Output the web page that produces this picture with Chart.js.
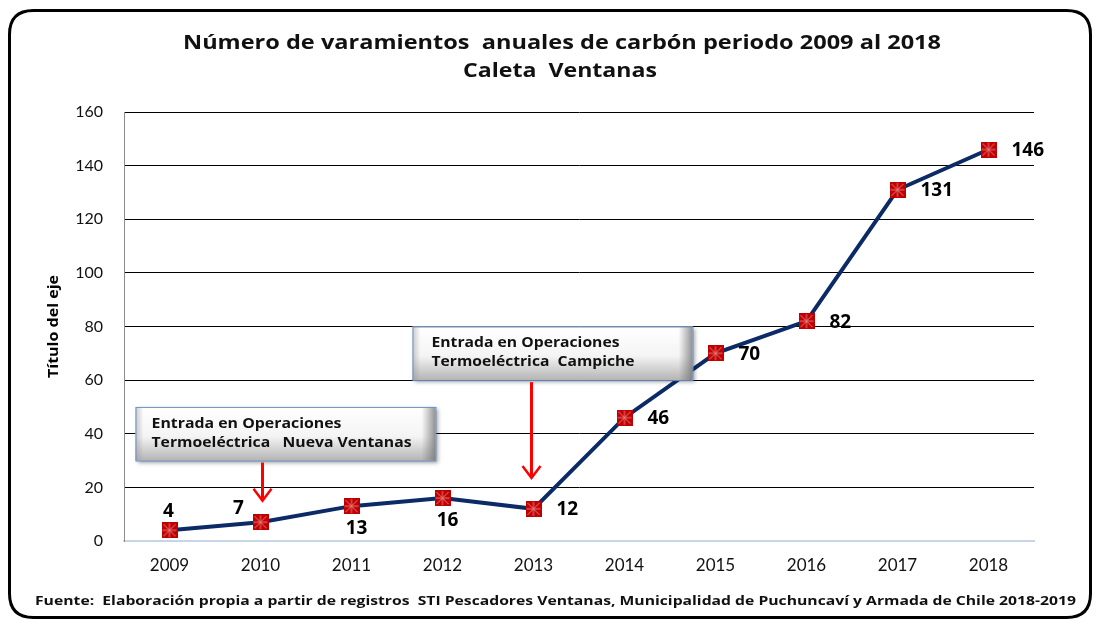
<!DOCTYPE html>
<html>
<head>
<meta charset="utf-8">
<script src="https://cdn.jsdelivr.net/npm/chart.js@4.4.1/dist/chart.umd.min.js"></script>
<style>
  html, body { margin: 0; padding: 0; background: #fff; }
  #wrap { width: 1096px; height: 622px; }
</style>
</head>
<body>
<div id="wrap"><canvas id="varamientos_chart" width="1096" height="622"></canvas></div>
<script>
const years = ["2009", "2010", "2011", "2012", "2013", "2014", "2015", "2016", "2017", "2018"];
const varamientos = [4, 7, 13, 16, 12, 46, 70, 82, 131, 146];
const yTicks = [0, 20, 40, 60, 80, 100, 120, 140, 160];

const titleLines = ["Número de varamientos  anuales de carbón periodo 2009 al 2018", "Caleta  Ventanas"];
const yAxisTitle = "Título del eje";
const footerText = "Fuente:  Elaboración propia a partir de registros  STI Pescadores Ventanas, Municipalidad de Puchuncaví y Armada de Chile 2018-2019";

// callouts: year the arrow points at, box top/bottom and arrow tip in axis units
const callouts = [
  { lines: ["Entrada en Operaciones", "Termoeléctrica   Nueva Ventanas"], year: "2010", top: 50, bottom: 30, tip: 15 },
  { lines: ["Entrada en Operaciones", "Termoeléctrica  Campiche"], year: "2013", top: 80, bottom: 60, tip: 23.5 }
];

// where each value label sits relative to its point
const labelSide = ["above", "left", "below", "below", "right", "right", "right", "right", "right", "right"];

function makeMarker() {
  const c = document.createElement("canvas");
  c.width = 16; c.height = 16;
  const g = c.getContext("2d");
  g.fillStyle = "#c00000";
  g.fillRect(0, 0, 16, 16);
  g.strokeStyle = "#e87a7a";
  g.lineWidth = 1;
  g.beginPath();
  g.moveTo(2, 2); g.lineTo(14, 14);
  g.moveTo(14, 2); g.lineTo(2, 14);
  g.moveTo(8, 1); g.lineTo(8, 15);
  g.moveTo(1, 8); g.lineTo(15, 8);
  g.stroke();
  return c;
}

// draw text squeezed/stretched to a given width
function fillFit(ctx, text, x, y, w, align) {
  const m = ctx.measureText(text).width;
  const s = w / m;
  ctx.save();
  ctx.translate(x, y);
  ctx.scale(s, 1);
  ctx.textAlign = align;
  ctx.fillText(text, 0, 0);
  ctx.restore();
}

function roundRect(ctx, x, y, w, h, r) {
  ctx.beginPath();
  ctx.moveTo(x + r, y);
  ctx.lineTo(x + w - r, y);
  ctx.quadraticCurveTo(x + w, y, x + w, y + r);
  ctx.lineTo(x + w, y + h - r);
  ctx.quadraticCurveTo(x + w, y + h, x + w - r, y + h);
  ctx.lineTo(x + r, y + h);
  ctx.quadraticCurveTo(x, y + h, x, y + h - r);
  ctx.lineTo(x, y + r);
  ctx.quadraticCurveTo(x, y, x + r, y);
  ctx.closePath();
}

function drawArrow(ctx, x, y1, y2) {
  ctx.save();
  ctx.strokeStyle = "#ff0000";
  ctx.lineWidth = 3;
  ctx.beginPath();
  ctx.moveTo(x, y1);
  ctx.lineTo(x, y2 - 2);
  ctx.stroke();
  ctx.lineWidth = 2.5;
  ctx.beginPath();
  ctx.moveTo(x - 9, y2 - 12);
  ctx.lineTo(x, y2);
  ctx.lineTo(x + 9, y2 - 12);
  ctx.stroke();
  ctx.restore();
}

const decorPlugin = {
  id: "decor",
  beforeDraw(chart) {
    const ctx = chart.ctx;
    ctx.save();
    ctx.fillStyle = "#fff";
    ctx.fillRect(0, 0, chart.width, chart.height);
    ctx.restore();
  },
  afterDatasetsDraw(chart) {
    const ctx = chart.ctx;
    const xs = chart.scales.x;
    const ys = chart.scales.y;

    // callout boxes + arrows
    const boxSpan = [[-127, 173, 190, 260], [-119, 161, 188, 203]];
    callouts.forEach(function (c, i) {
      const ax = xs.getPixelForValue(years.indexOf(c.year)) + (i === 0 ? 2 : -2);
      const left = ax + boxSpan[i][0];
      const right = ax + boxSpan[i][1];
      const top = ys.getPixelForValue(c.top);
      const bottom = ys.getPixelForValue(c.bottom);
      ctx.save();
      ctx.shadowColor = "rgba(0,0,0,0.35)";
      ctx.shadowBlur = 4;
      ctx.shadowOffsetX = 2;
      ctx.shadowOffsetY = 2;
      const gr = ctx.createLinearGradient(0, top, 0, bottom);
      gr.addColorStop(0, "#ffffff");
      gr.addColorStop(0.55, "#f4f4f4");
      gr.addColorStop(1, "#b4b4b4");
      ctx.fillStyle = gr;
      ctx.fillRect(left, top, right - left, bottom - top);
      ctx.restore();
      ctx.save();
      const gh = ctx.createLinearGradient(right - 14, 0, right, 0);
      gh.addColorStop(0, "rgba(120,120,120,0)");
      gh.addColorStop(1, "rgba(110,110,110,0.75)");
      ctx.fillStyle = gh;
      ctx.fillRect(right - 14, top, 14, bottom - top);
      const gl = ctx.createLinearGradient(left, 0, left + 8, 0);
      gl.addColorStop(0, "rgba(150,150,150,0.5)");
      gl.addColorStop(1, "rgba(150,150,150,0)");
      ctx.fillStyle = gl;
      ctx.fillRect(left, top, 8, bottom - top);
      ctx.strokeStyle = "#6d93c8";
      ctx.lineWidth = 1;
      ctx.strokeRect(left + 0.5, top + 0.5, right - left, bottom - top);
      ctx.fillStyle = "#111";
      ctx.font = "bold 14px 'Open Sans'";
      ctx.textBaseline = "middle";
      const tx = left + (i === 0 ? 16 : 19);
      fillFit(ctx, c.lines[0], tx, top + 17, boxSpan[i][2], "left");
      fillFit(ctx, c.lines[1], tx, top + 36, boxSpan[i][3], "left");
      ctx.restore();
      drawArrow(ctx, ax, bottom + 2, ys.getPixelForValue(c.tip));
    });

    // value labels
    const pts = chart.getDatasetMeta(0).data;
    ctx.save();
    ctx.fillStyle = "#000";
    ctx.font = "bold 19px 'Open Sans'";
    ctx.textBaseline = "middle";
    pts.forEach(function (p, i) {
      const txt = String(varamientos[i]);
      const side = labelSide[i];
      if (side === "above") {
        ctx.textAlign = "center";
        ctx.fillText(txt, p.x - 1, p.y - 19);
      } else if (side === "left") {
        ctx.textAlign = "center";
        ctx.fillText(txt, p.x - 22, p.y - 14);
      } else if (side === "below") {
        ctx.textAlign = "center";
        ctx.fillText(txt, p.x + 5, p.y + 22);
      } else {
        ctx.textAlign = "left";
        ctx.fillText(txt, p.x + 23, p.y + 1);
      }
    });
    ctx.restore();
  },
  afterDraw(chart) {
    const ctx = chart.ctx;
    const area = chart.chartArea;
    ctx.save();
    // title
    ctx.fillStyle = "#111";
    ctx.font = "bold 20px 'Open Sans'";
    ctx.textBaseline = "middle";
    fillFit(ctx, titleLines[0], 562, 43, 758, "center");
    fillFit(ctx, titleLines[1], 560, 71, 194, "center");
    // y axis title
    ctx.save();
    ctx.translate(54, (area.top + area.bottom) / 2);
    ctx.rotate(-Math.PI / 2);
    ctx.font = "bold 15px 'Open Sans'";
    ctx.fillStyle = "#000";
    fillFit(ctx, yAxisTitle, 0, 0, 103, "center");
    ctx.restore();
    // footer
    ctx.font = "bold 13px 'Open Sans'";
    fillFit(ctx, footerText, 35, 601, 1041, "left");
    // outer frame
    ctx.strokeStyle = "#000";
    ctx.lineWidth = 3;
    roundRect(ctx, 9.5, 10.5, 1081, 607, 24);
    ctx.stroke();
    ctx.restore();
  }
};

document.addEventListener("DOMContentLoaded", function () {
  const marker = makeMarker();

  new Chart("varamientos_chart", {
    type: "line",
    data: {
      labels: years,
      datasets: [{
        label: "Varamientos",
        data: varamientos,
        borderColor: "#0c2a66",
        borderWidth: 4,
        pointStyle: marker,
        pointRadius: 8,
        tension: 0,
        fill: false
      }]
    },
    options: {
      responsive: false,
      animation: false,
      layout: { padding: { top: 112, right: 62, bottom: 36, left: 40 } },
      plugins: {
        legend: { display: false },
        tooltip: { enabled: false },
        title: { display: false }
      },
      scales: {
        x: {
          offset: true,
          grid: { display: false, drawTicks: false },
          border: { display: true, color: "#c6d6ea", width: 2 },
          ticks: { color: "#111", font: { family: "Lato", size: 17 }, padding: 14, maxRotation: 0 },
          afterFit: function (s) { s.height = 45; }
        },
        y: {
          min: 0,
          max: 160,
          afterBuildTicks: function (s) { s.ticks = yTicks.map(function (v) { return { value: v }; }); },
          grid: { color: "#000", lineWidth: 1, drawTicks: false },
          border: { display: true, color: "#8c8c8c", width: 1 },
          ticks: { color: "#111", font: { family: "Lato", size: 16 }, padding: 21 },
          title: { display: false },
          afterFit: function (s) { s.width = 84; }
        }
      }
    },
    plugins: [decorPlugin]
  });
});
</script>
</body>
</html>
